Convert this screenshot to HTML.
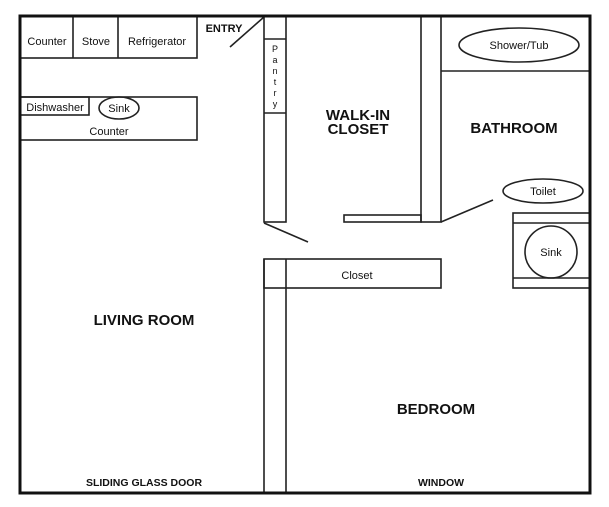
<!DOCTYPE html>
<html><head><meta charset="utf-8"><style>
html,body{margin:0;padding:0;background:#fff;}
svg{display:block;}
text{font-family:"Liberation Sans",Arial,sans-serif;fill:#111;}
.b{font-weight:bold;}
</style></head><body>
<svg width="609" height="507" viewBox="0 0 609 507" xmlns="http://www.w3.org/2000/svg">
<g fill="none" stroke="#222" stroke-width="1.6">
<!-- kitchen top -->
<rect x="20" y="16" width="177" height="42"/>
<line x1="73" y1="16" x2="73" y2="58"/>
<line x1="118" y1="16" x2="118" y2="58"/>
<!-- entry -->
<line x1="230" y1="47" x2="264" y2="17"/>
<!-- pantry -->
<rect x="264" y="16" width="22" height="206"/>
<line x1="264" y1="39" x2="286" y2="39"/>
<line x1="264" y1="113" x2="286" y2="113"/>
<line x1="264" y1="223" x2="308" y2="242"/>
<!-- island -->
<rect x="20" y="97" width="177" height="43"/>
<rect x="20" y="97" width="69" height="18"/>
<ellipse cx="119" cy="108" rx="20" ry="11"/>
<!-- walk-in / bath wall -->
<rect x="421" y="16" width="20" height="206"/>
<rect x="344" y="215" width="77" height="7"/>
<line x1="441" y1="71" x2="590" y2="71"/>
<ellipse cx="519" cy="45" rx="60" ry="17"/>
<line x1="441" y1="222" x2="493" y2="200"/>
<ellipse cx="543" cy="191" rx="40" ry="12"/>
<rect x="513" y="213" width="77" height="75"/>
<line x1="513" y1="223" x2="590" y2="223"/>
<line x1="513" y1="278" x2="590" y2="278"/>
<circle cx="551" cy="252" r="26"/>
<!-- closet & bedroom wall -->
<rect x="264" y="259" width="177" height="29"/>
<line x1="264" y1="259" x2="264" y2="493"/>
<line x1="286" y1="259" x2="286" y2="493"/>
</g>
<rect x="20" y="16" width="570" height="477" fill="none" stroke="#111" stroke-width="3"/>
<g font-size="11" text-anchor="middle">
<text x="47" y="45">Counter</text>
<text x="96" y="45">Stove</text>
<text x="157" y="45">Refrigerator</text>
<text x="55" y="111">Dishwasher</text>
<text x="119" y="112">Sink</text>
<text x="109" y="135">Counter</text>
<text x="519" y="49">Shower/Tub</text>
<text x="543" y="195">Toilet</text>
<text x="551" y="256">Sink</text>
<text x="357" y="279">Closet</text>
<text x="275" y="52" font-size="9">P</text>
<text x="275" y="63" font-size="9">a</text>
<text x="275" y="74" font-size="9">n</text>
<text x="275" y="85" font-size="9">t</text>
<text x="275" y="96" font-size="9">r</text>
<text x="275" y="107" font-size="9">y</text>
</g>
<g class="b" text-anchor="middle">
<text x="224" y="32" font-size="11" font-weight="bold">ENTRY</text>
<text x="358" y="120" font-size="15" font-weight="bold">WALK-IN</text>
<text x="358" y="134" font-size="15" font-weight="bold">CLOSET</text>
<text x="514" y="133" font-size="15" font-weight="bold">BATHROOM</text>
<text x="144" y="325" font-size="15" font-weight="bold">LIVING ROOM</text>
<text x="436" y="414" font-size="15" font-weight="bold">BEDROOM</text>
<text x="144" y="486" font-size="10.5" font-weight="bold">SLIDING GLASS DOOR</text>
<text x="441" y="486" font-size="10.5" font-weight="bold">WINDOW</text>
</g>
</svg>
</body></html>
